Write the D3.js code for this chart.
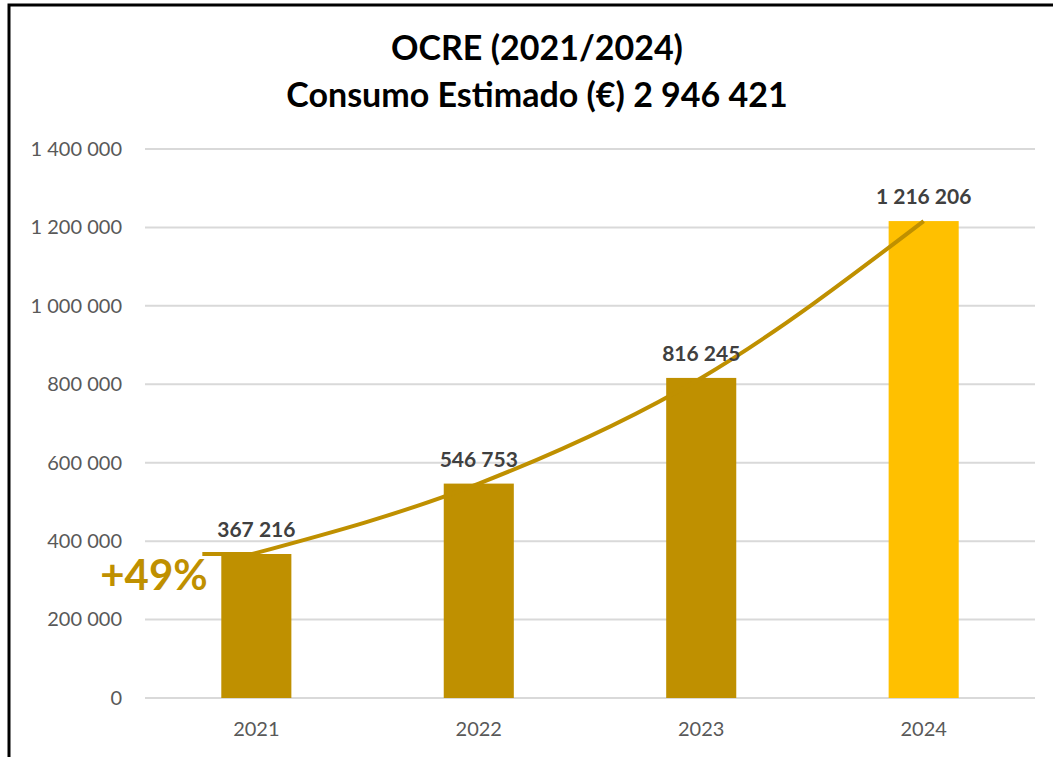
<!DOCTYPE html>
<html>
<head>
<meta charset="utf-8">
<script src="https://cdn.jsdelivr.net/npm/d3@7"></script>
<style>
body { margin: 0; background: #fff; }
svg { display: block; font-family: Lato, "Open Sans", sans-serif; }
</style>
</head>
<body>
<script>
var width = 1053, height = 757;

// data
var years = ['2021', '2022', '2023', '2024'];
var consumo = [367216, 546753, 816245, 1216206];
var barColors = ['#BF9000', '#BF9000', '#BF9000', '#FFC000'];
var yTicks = [0, 200000, 400000, 600000, 800000, 1000000, 1200000, 1400000];
var titleLines = ['OCRE (2021/2024)', 'Consumo Estimado (€) 2 946 421'];
var growthLabel = '+49%';

var svg = d3.select('body').append('svg').attr('width', width).attr('height', height);

// frame
svg.append('rect').attr('x', 9).attr('y', 5).attr('width', width + 20).attr('height', height + 20)
  .attr('fill', 'none').attr('stroke', '#000').attr('stroke-width', 3);

var x = d3.scaleBand().domain(years).range([145, 1035]).paddingInner(0.685).paddingOuter(0.343);
var y = d3.scaleLinear().domain([0, 1400000]).range([698, 149]);

var fmt = function(v) { return d3.format(',')(v).replace(/,/g, ' '); };

// gridlines
svg.append('g').selectAll('line').data(yTicks).join('line')
  .attr('x1', 145).attr('x2', 1035)
  .attr('y1', function(d) { return y(d); }).attr('y2', function(d) { return y(d); })
  .attr('stroke', '#d9d9d9').attr('stroke-width', 2);

// y axis labels
var yAxis = svg.append('g').attr('transform', 'translate(122,0)')
  .call(d3.axisLeft(y).tickValues(yTicks).tickSize(0).tickPadding(0).tickFormat(fmt));
yAxis.select('.domain').remove();
yAxis.selectAll('text').attr('fill', '#595959').style('font-size', '20px').style('font-family', 'Lato, sans-serif');

// x axis labels
var xAxis = svg.append('g').attr('transform', 'translate(0,712)')
  .call(d3.axisBottom(x).tickSize(0).tickPadding(10));
xAxis.select('.domain').remove();
xAxis.selectAll('text').attr('fill', '#595959').style('font-size', '20px').style('font-family', 'Lato, sans-serif');

// bars
svg.append('g').selectAll('rect').data(years).join('rect')
  .attr('x', function(d) { return x(d); })
  .attr('width', x.bandwidth())
  .attr('y', function(d, i) { return y(consumo[i]); })
  .attr('height', function(d, i) { return y(0) - y(consumo[i]); })
  .attr('fill', function(d, i) { return barColors[i]; });

// trend line: short flat lead-in, then smooth curve through the bar tops
var c = function(d) { return x(d) + x.bandwidth() / 2; };
var pts = years.map(function(d, i) {
  return [c(d) + (i === 0 ? -4 : 0), y(consumo[i])];
});
var curve = d3.line().curve(d3.curveMonotoneX)(pts);
var start = [c(years[0]) - 54, y(consumo[0])];
svg.append('path')
  .attr('d', 'M' + start[0] + ',' + start[1] + 'L' + curve.slice(1))
  .attr('fill', 'none').attr('stroke', '#BF9000').attr('stroke-width', 4);

// data labels
svg.append('g').selectAll('text').data(years).join('text')
  .attr('x', function(d) { return c(d); })
  .attr('y', function(d, i) { return y(consumo[i]) - 17; })
  .attr('text-anchor', 'middle')
  .attr('fill', '#404040').style('font-size', '21px').style('font-weight', 'bold')
  .text(function(d, i) { return fmt(consumo[i]); });

// growth label
svg.append('text').attr('x', 154).attr('y', 590).attr('text-anchor', 'middle')
  .attr('fill', '#BF9000').style('font-size', '42px').style('font-weight', 'bold')
  .text(growthLabel);

// title
svg.append('g').selectAll('text').data(titleLines).join('text')
  .attr('x', 537).attr('y', function(d, i) { return 60 + i * 47; })
  .attr('text-anchor', 'middle').attr('fill', '#000')
  .style('font-size', '34px').style('font-weight', 'bold')
  .text(function(d) { return d; });
</script>
</body>
</html>
